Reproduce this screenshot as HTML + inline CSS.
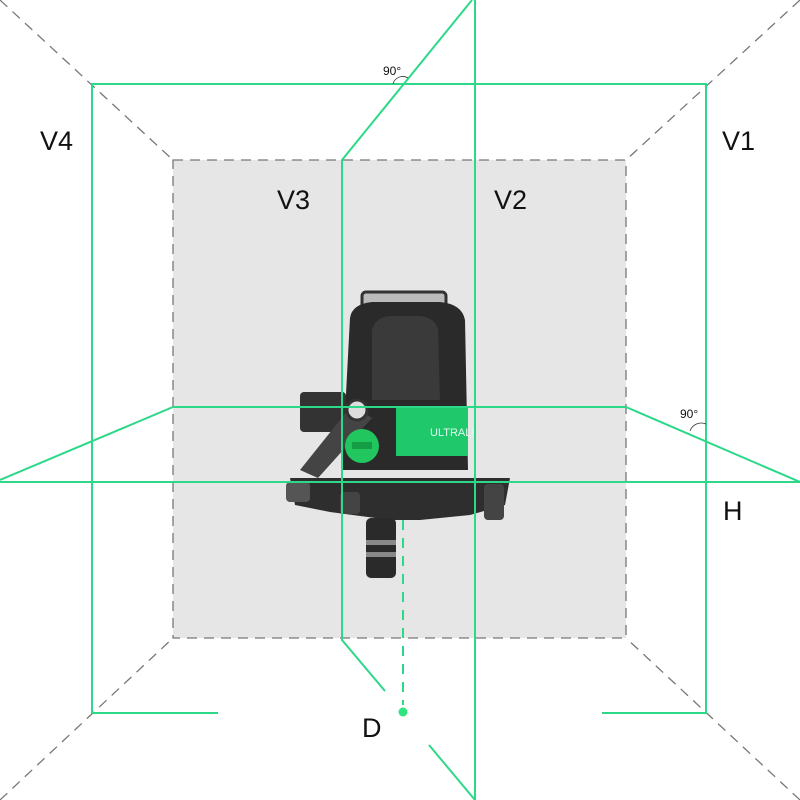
<!DOCTYPE html>
<html><head><meta charset="utf-8"><style>
html,body{margin:0;padding:0;background:#fff;}
svg{display:block;}
text{font-family:"Liberation Sans",sans-serif;fill:#111;}
</style></head><body>
<svg width="800" height="800" viewBox="0 0 800 800" xmlns="http://www.w3.org/2000/svg">
<rect x="173" y="160" width="453" height="478" fill="#e6e6e6"/>
<g stroke="#777" stroke-width="1.3" stroke-dasharray="10,7" fill="none">
<rect x="173" y="160" width="453" height="478"/>
<line x1="0" y1="0" x2="173" y2="160"/>
<line x1="800" y1="0" x2="626" y2="160"/>
<line x1="0" y1="800" x2="173" y2="638"/>
<line x1="800" y1="800" x2="626" y2="638"/>
</g>
<!-- device -->
<g>
<rect x="362" y="292" width="84" height="22" rx="4" fill="#bbb" stroke="#333" stroke-width="3"/>
<path d="M350 318 Q352 304 372 302 L440 302 Q462 304 465 320 L468 470 L342 470 Z" fill="#2a2a2a"/>
<path d="M372 330 Q376 316 392 316 L420 316 Q436 318 438 330 L440 400 L372 400 Z" fill="#3a3a3a"/>
<rect x="300" y="392" width="46" height="40" rx="4" fill="#333"/>
<path d="M300 470 L352 405 L372 418 L318 478 Z" fill="#444"/>
<circle cx="357" cy="410" r="10" fill="#ddd" stroke="#333" stroke-width="3"/>
<rect x="396" y="406" width="72" height="50" fill="#1fc86a"/>
<text x="430" y="436" font-size="11" style="fill:#dfe">ULTRALI</text>
<circle cx="362" cy="446" r="17" fill="#22c65f"/>
<rect x="352" y="442" width="20" height="7" fill="#159d45"/>
<path d="M290 478 L510 478 L505 505 L470 515 L420 520 L390 520 L330 512 L295 505 Z" fill="#2e2e2e"/>
<rect x="286" y="482" width="24" height="20" rx="4" fill="#555"/>
<rect x="484" y="484" width="20" height="36" rx="4" fill="#444"/>
<rect x="340" y="492" width="20" height="22" rx="4" fill="#444"/>
<rect x="366" y="518" width="30" height="60" rx="5" fill="#2a2a2a"/>
<rect x="366" y="540" width="30" height="5" fill="#888"/>
<rect x="366" y="552" width="30" height="5" fill="#888"/>
</g>
<g stroke="#2ed889" stroke-width="2" fill="none">
<polyline points="218,713 92,713 92,84 706,84 706,713 602,713"/>
<line x1="0" y1="482" x2="800" y2="482"/>
<polyline points="0,480 173,407 626,407 800,482"/>
<polyline points="472,0 342,160 342,640 385,691"/>
<line x1="475" y1="0" x2="475" y2="800"/>
<line x1="429" y1="745" x2="475" y2="800"/>
<line x1="403" y1="520" x2="403" y2="705" stroke-dasharray="10,8"/>
</g>
<circle cx="403" cy="712" r="4.5" fill="#2ee57f"/>
<path d="M393 84 A10 10 0 0 1 408 78" stroke="#333" stroke-width="0.8" fill="none"/>
<path d="M690 431 A12 12 0 0 1 706 424" stroke="#333" stroke-width="0.8" fill="none"/>
<text x="383" y="75" font-size="12">90°</text>
<text x="680" y="418" font-size="12">90°</text>
<text x="40" y="150" font-size="27">V4</text>
<text x="722" y="150" font-size="27">V1</text>
<text x="277" y="209" font-size="27">V3</text>
<text x="494" y="209" font-size="27">V2</text>
<text x="723" y="520" font-size="27">H</text>
<text x="362" y="737" font-size="27">D</text>
</svg>
</body></html>
